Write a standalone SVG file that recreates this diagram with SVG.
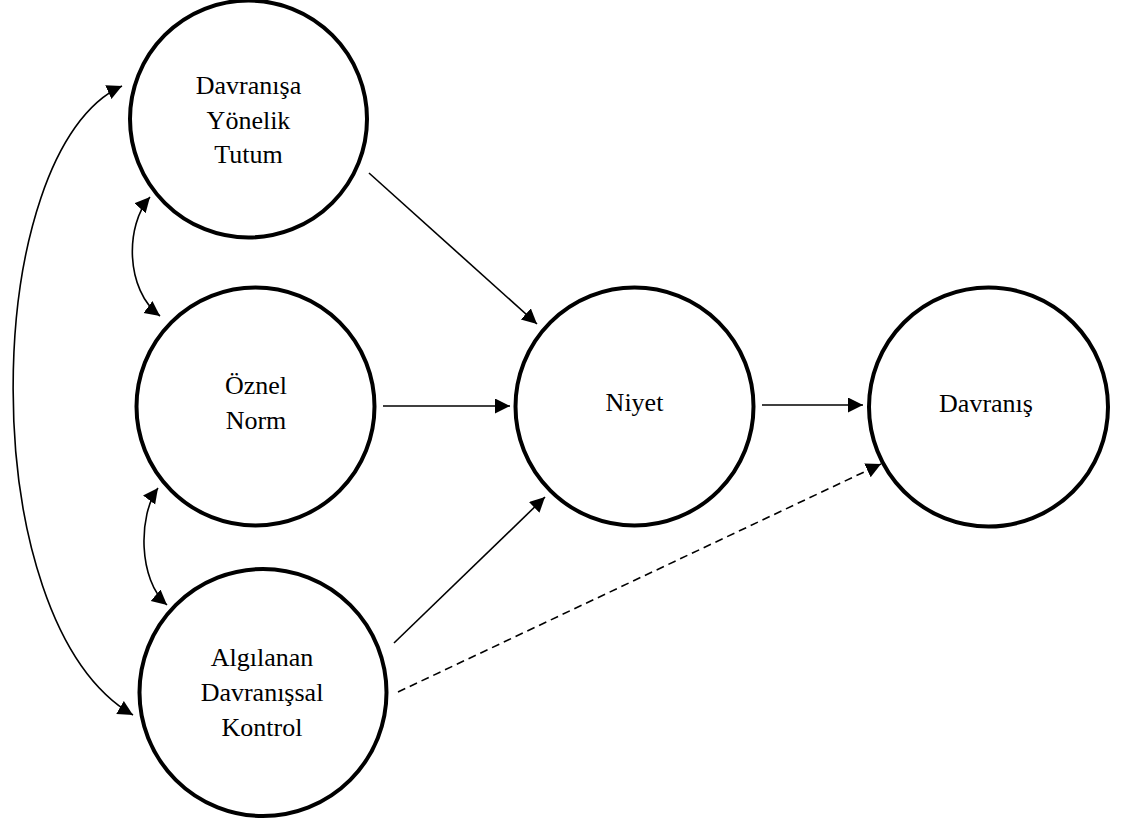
<svg xmlns="http://www.w3.org/2000/svg" width="1121" height="822" viewBox="0 0 1121 822">
  <style>
    .node { fill: #fff; stroke: #000; stroke-width: 4; }
    .label { font-family: "Liberation Serif", "Times New Roman", serif; font-size: 26px; fill: #000; text-anchor: middle; }
    .edge { fill: none; stroke: #000; stroke-width: 1.6; }
    .dashed { stroke-dasharray: 8 5; }
  </style>
  <defs>
    <marker id="arrow" markerUnits="userSpaceOnUse" markerWidth="16" markerHeight="16" refX="15" refY="7.5" orient="auto-start-reverse" viewBox="0 0 16 16">
      <path d="M0,0 L15,7.5 L0,15 z" fill="#000"/>
    </marker>
  </defs>

  <rect width="1121" height="822" fill="#fff"/>

  <!-- connectors -->
  <g id="connectors">
    <!-- correlations between the three predictors -->
    <path class="edge" d="M122,86 C-20,150 -30,620 133,715" marker-start="url(#arrow)" marker-end="url(#arrow)"/>
    <path class="edge" d="M150,197 C125,225 125,290 160,316" marker-start="url(#arrow)" marker-end="url(#arrow)"/>
    <path class="edge" d="M158,488 C138,515 138,580 167,605" marker-start="url(#arrow)" marker-end="url(#arrow)"/>
    <!-- predictors to intention -->
    <line class="edge" x1="369" y1="173" x2="537" y2="324" marker-end="url(#arrow)"/>
    <line class="edge" x1="383" y1="406" x2="510" y2="406" marker-end="url(#arrow)"/>
    <line class="edge" x1="394" y1="643" x2="545" y2="497" marker-end="url(#arrow)"/>
    <!-- intention to behaviour -->
    <line class="edge" x1="762" y1="405" x2="863" y2="405" marker-end="url(#arrow)"/>
    <!-- perceived control directly to behaviour -->
    <line class="edge dashed" x1="398" y1="692" x2="881" y2="464" marker-end="url(#arrow)"/>
  </g>

  <g id="tutum">
    <circle class="node" cx="248.5" cy="119" r="118.5"/>
    <text class="label" x="248.5" y="94">Davranışa</text>
    <text class="label" x="248.5" y="129">Yönelik</text>
    <text class="label" x="248.5" y="163">Tutum</text>
  </g>

  <g id="oznel-norm">
    <circle class="node" cx="255.5" cy="406.5" r="119"/>
    <text class="label" x="256" y="394">Öznel</text>
    <text class="label" x="256" y="429">Norm</text>
  </g>

  <g id="algilanan-kontrol">
    <circle class="node" cx="263" cy="692.5" r="123.5"/>
    <text class="label" x="262" y="666">Algılanan</text>
    <text class="label" x="262" y="701">Davranışsal</text>
    <text class="label" x="262" y="736">Kontrol</text>
  </g>

  <g id="niyet">
    <circle class="node" cx="634.5" cy="406.5" r="119"/>
    <text class="label" x="634.5" y="411">Niyet</text>
  </g>

  <g id="davranis">
    <circle class="node" cx="988.5" cy="407" r="119.5"/>
    <text class="label" x="986" y="412">Davranış</text>
  </g>
</svg>
